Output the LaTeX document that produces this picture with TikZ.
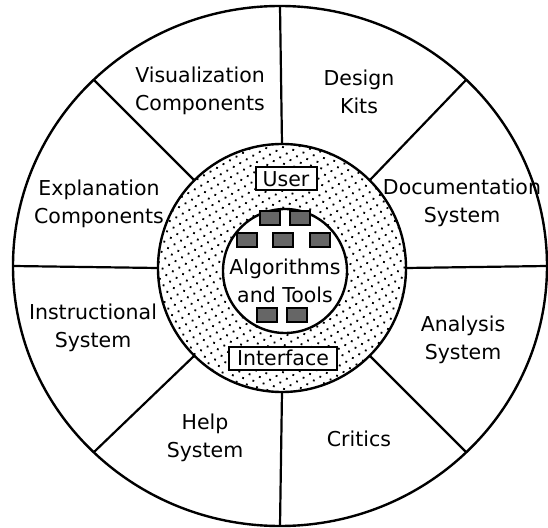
\documentclass[tikz,border=0pt]{standalone}
\usepackage{fontspec}
\setmainfont{DejaVu Sans}
\usetikzlibrary{shapes.geometric, patterns.meta, positioning}

\begin{document}
\begin{tikzpicture}[
    x=1pt, y=1pt,
    % Define styles
    every node/.style={font=\fontsize{20.5}{28}\selectfont},
    rim/.style={ellipse, draw, line width=2.4pt, outer sep=0pt, minimum width=534pt, minimum height=520pt},
    ring/.style={circle, draw, line width=2.4pt, outer sep=0pt, minimum size=248pt,
      pattern={Dots[distance=7.5pt, radius=1.3pt, angle=30]}},
    core/.style={circle, draw, line width=2.4pt, fill=white, minimum size=124pt},
    label/.style={align=center},
    tag/.style={rectangle, draw, line width=2pt, fill=white, inner xsep=2pt, inner ysep=1pt, minimum height=23pt},
    chip/.style={rectangle, draw, line width=2pt, fill=black!60, minimum width=20pt, minimum height=14pt},
    spoke/.style={line width=2.2pt}
  ]
  \useasboundingbox (-282,-260) rectangle (266,267);

  % Outer wheel
  \node[rim] (wheel) at (-2,1) {};
  \node[ring] (iface) at (0,-1) {};
  \foreach \a in {0,45,...,315}
    \draw[spoke] (iface.\a) -- (wheel.\a);

  % Centre
  \node[core] (algo) at (3,-4) {};
  \node[label] (algotext) at (3,-14) {Algorithms\\and Tools};

  % Tools
  \node[chip] (c1) at (-12,49) {};
  \node[chip] (c2) at (18,49) {};
  \node[chip] (c3) at (-35,27) {};
  \node[chip] (c4) at (1,27) {};
  \node[chip] (c5) at (38,27) {};
  \node[chip] (c6) at (-15,-48) {};
  \node[chip] (c7) at (15,-48) {};

  % User interface tags
  \node[tag, minimum width=61pt] (user) at (4,88) {User};
  \node[tag, minimum width=108pt] (interface) at (1,-91) {Interface};

  % Sectors
  \node[label] (visual) at (-82,176) {Visualization\\Components};
  \node[label] (design) at (77,175) {Design\\Kits};
  \node[label] (doc) at (180,64) {Documentation\\System};
  \node[label] (explain) at (-183,63) {Explanation\\Components};
  \node[label] (instruct) at (-189,-61) {Instructional\\System};
  \node[label] (analysis) at (181,-73) {Analysis\\System};
  \node[label] (help) at (-77,-171) {Help\\System};
  \node[label] (critics) at (77,-172) {Critics};

\end{tikzpicture}
\end{document}
